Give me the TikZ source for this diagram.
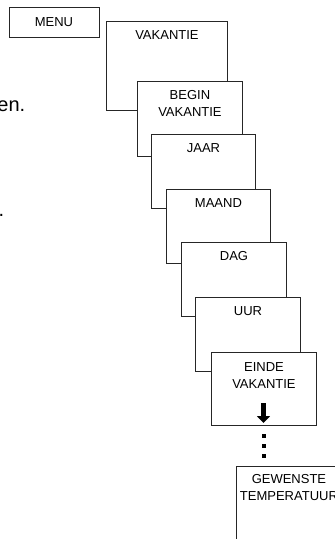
\documentclass[tikz,border=0pt]{standalone}
\usepackage{fontspec}
\setmainfont{Liberation Sans}
\usetikzlibrary{arrows.meta}

\begin{document}
\begin{tikzpicture}[x=1pt, y=-1pt,
    panel/.style={draw=black!85, line width=0.9pt, fill=white, anchor=north west, inner sep=0pt},
    paneltext/.style={anchor=base, align=center, inner sep=0pt, font=\fontsize{13}{16.5}\selectfont}]
    \useasboundingbox (0,0) rectangle (335,539);

    % Cut-off text on the left
    \node[anchor=base east, inner sep=0pt, font=\fontsize{20}{24}\selectfont] (texten) at (25.5,111) {en.};
    \node[anchor=base west, inner sep=0pt, font=\fontsize{20}{24}\selectfont] (textdot) at (-1.5,216) {.};

    % The menu key
    \node[draw=black!85, line width=0.9pt, minimum width=90pt, minimum height=30pt, inner sep=0pt, font=\fontsize{13}{16.5}\selectfont] (menu) at (54,22) {MENU};

    % The stack of screens (each one drawn over the last)
    % two-line labels sit on their last line, so they go one line lower
    \node[panel, minimum width=121pt, minimum height=89pt] (vakantie) at (106,21) {};
    \node[paneltext] (vakantietext) at ([yshift=-18.5pt]vakantie.north) {VAKANTIE};

    \node[panel, minimum width=105pt, minimum height=75pt] (begin) at (137,81) {};
    \node[paneltext] (begintext) at ([yshift=-35pt]begin.north) {BEGIN\\VAKANTIE};

    \node[panel, minimum width=104pt, minimum height=74pt] (jaar) at (151,134) {};
    \node[paneltext] (jaartext) at ([yshift=-18.5pt]jaar.north) {JAAR};

    \node[panel, minimum width=104pt, minimum height=74pt] (maand) at (166,189) {};
    \node[paneltext] (maandtext) at ([yshift=-18.5pt]maand.north) {MAAND};

    \node[panel, minimum width=105pt, minimum height=74pt] (dag) at (181,242) {};
    \node[paneltext] (dagtext) at ([yshift=-18.5pt]dag.north) {DAG};

    \node[panel, minimum width=105pt, minimum height=74pt] (uur) at (195,297) {};
    \node[paneltext] (uurtext) at ([yshift=-18.5pt]uur.north) {UUR};

    \node[panel, minimum width=105pt, minimum height=73pt] (einde) at (211,352) {};
    \node[paneltext] (eindetext) at ([yshift=-36pt]einde.north) {EINDE\\VAKANTIE};

    % Down arrow and the dots
    \coordinate (arrowtop) at (263.5,403);
    \coordinate (arrowtip) at (263.5,423);
    \draw[line width=5.5pt, -{Triangle[width=13pt, length=7pt]}] (arrowtop) -- (arrowtip);
    \foreach \y in {436,446,456}
        \fill (262,\y-2) rectangle (266,\y+2);

    % Last screen, cut off at the edge
    \node[panel, minimum width=105pt, minimum height=80pt] (gewenste) at (236,466) {};
    \node[paneltext] (gewenstetext) at ([yshift=-34pt]gewenste.north) {GEWENSTE\\TEMPERATUUR};
\end{tikzpicture}
\end{document}
